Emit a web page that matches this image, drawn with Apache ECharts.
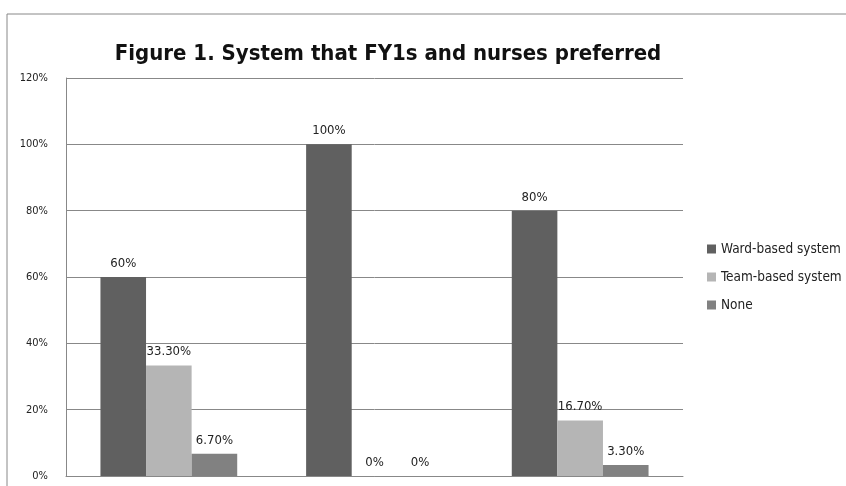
<!DOCTYPE html>
<html><head><meta charset="utf-8">
<script src="https://cdn.jsdelivr.net/npm/echarts@6/dist/echarts.min.js"></script>
<style>html,body{margin:0;padding:0;background:#fff}#c{width:846px;height:486px}</style>
</head><body><div id="c"></div>
<script>
const categories = ['Group A', 'Group B', 'Group C'];
const wardBased = [60, 100, 80];
const teamBased = [33.3, 0, 16.7];
const none = [6.7, 0, 3.3];
const seriesNames = ['Ward-based system', 'Team-based system', 'None'];
const colors = ['#606060', '#b5b5b5', '#818181'];
const font = '"Liberation Sans Narrow", "DejaVu Sans Condensed", "Open Sans", sans-serif';

const fmt = p => (Number.isInteger(p.value) ? p.value : p.value.toFixed(2)) + '%';
const mk = (name, data, color) => ({
  name, type: 'bar', data, barGap: '0%', barCategoryGap: '33.5%',
  itemStyle: { color },
  label: { show: true, position: 'top', distance: 7, formatter: fmt, color: '#222', fontSize: 13, fontFamily: font }
});

const chart = echarts.init(document.getElementById('c'));
chart.setOption({
  animation: false,
  title: { text: 'Figure 1. System that FY1s and nurses preferred', left: 383, top: 38, textAlign: 'center',
    textStyle: { fontSize: 22, fontWeight: 'bold', color: '#111', fontFamily: font } },
  legend: { orient: 'vertical', left: 702, top: 237, itemWidth: 9, itemHeight: 9, itemGap: 14, icon: 'rect',
    textStyle: { fontSize: 13.5, color: '#222', fontFamily: font }, data: seriesNames },
  grid: { left: 66, top: 78, width: 617, height: 398, containLabel: false },
  xAxis: { type: 'category', data: categories, axisLine: { lineStyle: { color: '#888' } }, axisTick: { show: false }, axisLabel: { show: false } },
  yAxis: { type: 'value', min: 0, max: 120, interval: 20,
    axisLine: { show: true, lineStyle: { color: '#888' } }, axisTick: { show: false },
    axisLabel: { formatter: '{value}%', color: '#222', fontSize: 11, fontFamily: font, margin: 18 },
    splitLine: { lineStyle: { color: '#888' } } },
  graphic: [{ type: 'rect', shape: { x: 7, y: 14, width: 900, height: 500 }, style: { fill: 'none', stroke: '#888', lineWidth: 1 }, z: -1 }],
  series: [mk(seriesNames[0], wardBased, colors[0]), mk(seriesNames[1], teamBased, colors[1]), mk(seriesNames[2], none, colors[2])]
});
</script></body></html>
